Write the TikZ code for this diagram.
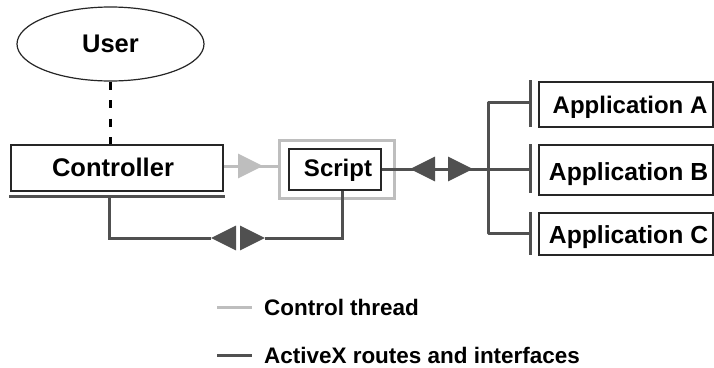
\documentclass[tikz,border=0pt]{standalone}
\usepackage{fontspec}
\setmainfont{Liberation Sans}
\usetikzlibrary{arrows.meta,shapes.geometric}

% moves a label inside its box: right, up, text
\newcommand{\nudge}[3]{\makebox[0pt]{\hspace*{#1}\hspace*{#1}\raisebox{#2}[12pt][0pt]{#3}}}

\tikzset{
	box/.style = {draw=black!85, line width=1.6pt, fill=white, inner sep=0pt, font=\bfseries\fontsize{24}{24}\selectfont},
	routeline/.style = {draw=routegray, line width=3pt},
	ctrlline/.style = {draw=ctrlgray, line width=3pt},
	routetip/.style = {routeline, -{Triangle[length=25pt,width=24pt]}},
	ctrltip/.style = {ctrlline, -{Triangle[length=25pt,width=24pt]}},
	legend/.style = {inner sep=0pt, anchor=west, font=\bfseries\fontsize{22.45}{24}\selectfont}
}
\definecolor{routegray}{HTML}{505050}
\definecolor{ctrlgray}{HTML}{BEBEBE}

\begin{document}
\begin{tikzpicture}[x=1pt,y=-1pt]
	\path [use as bounding box] (0,0) rectangle (714,367);
	% outer frame of the script, behind its box
	\node (frame) [draw=ctrlgray, line width=3pt, minimum width=115pt, minimum height=58pt, inner sep=0pt] at (336.5,169) {};
	% boxes
	\node (user) [box, ellipse, line width=1.2pt, minimum width=187pt, minimum height=74pt] at (110.5,44) {\fontsize{25.5}{26}\selectfont User};
	\node (controller) [box, minimum width=212pt, minimum height=46pt] at (117,168) {\nudge{-4pt}{-2.75pt}{\fontsize{25.5}{26}\selectfont Controller}};
	\node (script) [box, minimum width=92pt, minimum height=41pt] at (335,169.5) {\nudge{3pt}{-1.25pt}{Script}};
	\node (appA) [box, minimum width=174pt, minimum height=45pt] at (626,104.5) {\nudge{4pt}{-3pt}{Application A}};
	\node (appB) [box, minimum width=174pt, minimum height=50pt] at (626,170) {\nudge{2.5pt}{-4pt}{\fontsize{24.7}{25}\selectfont Application B}};
	\node (appC) [box, minimum width=174pt, minimum height=42pt] at (626,234) {\nudge{2.5pt}{-3pt}{\fontsize{24.7}{25}\selectfont Application C}};
	% points on the lines
	\coordinate (barL) at (9,196);
	\coordinate (barR) at (225,196);
	\coordinate (barM) at (109,196);
	\coordinate (bendL) at (235,238);
	\coordinate (bendM) at (211,238);
	\coordinate (bendN) at (241,238);
	\coordinate (bendR) at (265,238);
	\coordinate (ctrlA) at (238,166);
	\coordinate (ctrlB) at (263,166);
	\coordinate (ctrlC) at (278,166);
	\coordinate (tipA) at (434,169);
	\coordinate (tipB) at (410,169);
	\coordinate (tipC) at (447,169);
	\coordinate (tipD) at (473,169);
	\coordinate (trunk) at (488,169);
	\coordinate (stopA) at (530,102);
	\coordinate (stopB) at (530,169);
	\coordinate (stopC) at (530,233);
	% dashed link
	\draw[black, line width=3pt, dash pattern=on 8pt off 10.5pt] (user.south) -- (user.south |- controller.north);
	% control thread
	\draw[ctrlline] (controller.east |- ctrlA) -- (ctrlC);
	\draw[ctrltip] (ctrlA) -- (ctrlB);
	% bar under the controller and its route to the script
	\draw[routeline] (barL) -- (barR);
	\draw[routeline] (barM) |- (bendM);
	\draw[routeline] (bendR) -| (script.south -| 342,0);
	\draw[routetip] (bendL) -- (bendM);
	\draw[routetip] (bendN) -- (bendR);
	% route from the script to the applications
	\draw[routeline] (script.east |- tipA) -- (stopB);
	\draw[routetip] (tipA) -- (tipB);
	\draw[routetip] (tipC) -- (tipD);
	\draw[routeline, line join=round] (stopA) -| (trunk) |- (stopC);
	\draw[routeline] (530,80) -- (530,127);
	\draw[routeline] (530,144) -- (530,193);
	\draw[routeline] (530,212) -- (530,255);
	% legend
	\node (keyA) [legend] at (264,307) {Control thread};
	\node (keyB) [legend] at (264,355) {ActiveX routes and interfaces};
	\coordinate (lineA) at (217,307);
	\coordinate (lineB) at (217,355);
	\draw[ctrlline] (lineA) -- ++(35,0);
	\draw[routeline] (lineB) -- ++(35,0);
\end{tikzpicture}
\end{document}
